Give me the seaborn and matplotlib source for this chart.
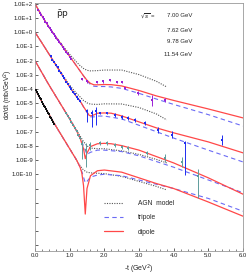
import numpy as np
import pandas as pd
import matplotlib
matplotlib.use("Agg")
import matplotlib.pyplot as plt
import seaborn as sns
from matplotlib.lines import Line2D

sns.set_theme(style="ticks")
plt.rcParams['font.family'] = ['Liberation Sans', 'DejaVu Sans']

# ---------------- data (log10 of plotted dσ/dt, scaled sets) ----------------
energies = ["7.00 GeV", "7.62 GeV", "9.78 GeV", "11.54 GeV"]

# dipole model curves
dip_t = [
    [0, 0.2, 0.4, 0.6, 0.8, 1.0, 1.2, 1.4, 1.5, 1.6, 1.7, 1.8, 2.0, 2.2, 2.5, 3.0, 3.5, 4.0, 5.0, 6.0],
    [0, 0.2, 0.4, 0.6, 0.8, 1.0, 1.2, 1.3, 1.4, 1.5, 1.55, 1.6, 1.7, 1.8, 2.0, 2.2, 2.5, 3.0, 3.5, 4.0, 5.0, 6.0],
    [0, 0.2, 0.4, 0.6, 0.8, 1.0, 1.2, 1.3, 1.4, 1.45, 1.5, 1.6, 1.8, 2.0, 2.2, 2.5, 3.0, 3.5, 4.0, 5.0, 6.0],
    [0, 0.2, 0.4, 0.6, 0.8, 1.0, 1.2, 1.3, 1.35, 1.4, 1.45, 1.5, 1.6, 1.8, 2.0, 2.5, 3.0, 3.5, 4.0, 5.0, 6.0],
]
dip_lg = [
    [2.0, 1.15, 0.37, -0.33, -1.02, -1.70, -2.38, -3.07, -3.38, -3.60, -3.70, -3.70, -3.68, -3.69, -3.78, -4.10, -4.48, -4.80, -5.40, -6.03],
    [0.0, -0.75, -1.52, -2.30, -3.07, -3.85, -4.55, -4.83, -5.25, -5.61, -5.82, -5.89, -5.82, -5.70, -5.68, -5.70, -5.89, -6.31, -6.73, -7.08, -7.72, -8.49],
    [-2.0, -2.85, -3.70, -4.50, -5.30, -6.10, -6.95, -7.45, -8.20, -8.90, -8.50, -8.05, -7.85, -7.82, -7.85, -7.98, -8.30, -8.75, -9.20, -10.25, -11.40],
    [-4.0, -4.90, -5.75, -6.60, -7.40, -8.20, -9.00, -9.50, -9.90, -10.80, -12.80, -11.00, -10.10, -9.75, -9.70, -9.85, -10.25, -10.65, -11.00, -11.95, -12.95],
]

# tripole model curves
tri_t = [
    [0, 0.2, 0.4, 0.6, 0.8, 1.0, 1.2, 1.4, 1.5, 1.6, 1.7, 1.8, 2.0, 2.2, 2.5, 3.0, 3.5, 4.0, 5.0, 6.0],
    [0, 0.2, 0.4, 0.6, 0.8, 1.0, 1.2, 1.3, 1.4, 1.5, 1.6, 1.7, 1.8, 2.0, 2.5, 3.0, 3.5, 4.0, 5.0, 6.0],
    [0, 0.2, 0.4, 0.6, 0.8, 1.0, 1.2, 1.3, 1.4, 1.5, 1.6, 1.8, 2.0, 2.5, 3.0, 4.0, 5.0, 6.0],
    [0, 0.2, 0.4, 0.6, 0.8, 1.0, 1.2, 1.3, 1.35, 1.4, 1.45, 1.5, 1.6, 1.8, 2.0, 2.5, 3.0, 4.0, 5.0, 6.0],
]
tri_lg = [
    [2.0, 1.15, 0.37, -0.33, -1.02, -1.70, -2.38, -3.07, -3.42, -3.68, -3.80, -3.82, -3.82, -3.85, -3.95, -4.30, -4.70, -5.08, -5.80, -6.60],
    [0.0, -0.75, -1.52, -2.30, -3.07, -3.85, -4.55, -4.83, -5.25, -5.65, -5.95, -5.96, -5.90, -5.90, -6.10, -6.55, -7.00, -7.45, -8.30, -9.13],
    [-2.0, -2.85, -3.70, -4.50, -5.30, -6.10, -6.95, -7.45, -8.00, -8.60, -8.45, -8.30, -8.30, -8.40, -8.70, -9.50, -10.40, -11.30],
    [-4.0, -4.90, -5.75, -6.60, -7.40, -8.20, -9.00, -9.50, -9.80, -10.20, -10.60, -10.50, -10.20, -10.05, -10.00, -10.10, -10.40, -11.00, -11.70, -12.60],
]

# AGN model curves
agn_t = [
    [0, 0.2, 0.4, 0.6, 0.8, 1.0, 1.2, 1.3, 1.4, 1.5, 1.6, 1.8, 2.0, 2.5, 3.0, 3.5, 3.8],
    [0, 0.2, 0.4, 0.6, 0.8, 1.0, 1.1, 1.2, 1.3, 1.4, 1.5, 1.6, 1.8, 2.0, 2.5, 3.0, 3.5, 3.8],
    [0, 0.2, 0.4, 0.6, 0.8, 1.0, 1.2, 1.3, 1.4, 1.5, 1.6, 1.8, 2.0, 2.5, 3.0, 3.5, 3.8],
    [0, 0.2, 0.4, 0.6, 0.8, 1.0, 1.2, 1.3, 1.4, 1.5, 1.6, 2.0, 2.5, 3.0, 3.5, 3.8],
]
agn_lg = [
    [2.0, 1.15, 0.37, -0.30, -0.95, -1.55, -2.10, -2.35, -2.55, -2.68, -2.72, -2.70, -2.66, -2.66, -2.98, -3.45, -3.85],
    [0.0, -0.75, -1.52, -2.28, -3.02, -3.72, -4.02, -4.30, -4.55, -4.80, -4.97, -5.06, -5.08, -5.04, -5.05, -5.30, -5.75, -6.17],
    [-2.0, -2.85, -3.70, -4.50, -5.30, -6.10, -6.90, -7.30, -7.70, -8.00, -8.15, -8.20, -8.20, -8.35, -8.60, -8.95, -9.20],
    [-4.0, -4.90, -5.75, -6.60, -7.40, -8.20, -9.00, -9.40, -9.70, -9.85, -9.90, -9.95, -10.15, -10.50, -10.85, -11.10],
]

# measured points (log10 of plotted values)
pts_t = [
    [0.10, 0.14, 0.18, 0.22, 0.26, 0.30, 0.34, 0.38, 0.42, 0.46, 0.50, 0.54, 0.58, 0.62, 0.66, 0.70, 0.75, 0.80, 0.85,
     0.90, 0.95, 1.00, 1.05, 1.35, 1.50, 1.79, 1.96, 2.16, 2.36, 2.50, 2.60, 2.97, 3.37, 3.75],
    [0.45, 0.50, 0.55, 0.60, 0.65, 0.70, 0.75, 0.80, 0.85, 0.90, 0.95, 1.00, 1.05, 1.10, 1.15, 1.20, 1.25, 1.30,
     1.50, 1.65, 1.75, 1.87, 2.07, 2.30, 2.50, 2.68, 2.88, 3.17, 3.55, 3.95, 4.33, 5.40],
    [0.90, 0.95, 1.00, 1.05, 1.10, 1.15, 1.20, 1.25, 1.30, 1.35, 1.48, 1.60, 1.87, 2.08, 2.31, 2.51, 2.68, 3.23, 3.75,
     4.24, 4.70],
    [0.02, 0.05, 0.08, 0.11, 0.14, 0.17, 0.20, 0.23, 0.26, 0.29, 0.32, 0.35, 0.38, 0.41, 0.44, 0.47, 0.50, 0.53, 0.56],
]
pts_lg = [
    [1.60, 1.38, 1.25, 1.05, 0.93, 0.74, 0.62, 0.43, 0.31, 0.14, 0.03, -0.14, -0.25, -0.42, -0.52, -0.69, -0.83, -1.04,
     -1.17, -1.38, -1.51, -1.72, -1.85, -3.30, -3.45, -3.48, -3.46, -3.38, -3.48, -3.50, -3.92, -4.27, -4.76, -4.76],
    [-1.70, -1.92, -2.08, -2.32, -2.48, -2.70, -2.86, -3.09, -3.25, -3.47, -3.63, -3.87, -4.01, -4.22, -4.36, -4.57, -4.68,
     -4.87, -5.55, -5.70, -5.55, -5.68, -5.68, -5.82, -5.96, -6.03, -6.17, -6.38, -6.87, -7.22, -7.79, -7.58],
    [-5.70, -5.92, -6.08, -6.32, -6.50, -6.75, -6.93, -7.22, -7.43, -7.90, -8.30, -7.95, -7.79, -7.79, -7.93, -8.07,
     -8.14, -8.49, -8.85, -9.13, -10.10],
    [-4.08, -4.20, -4.37, -4.47, -4.63, -4.73, -4.92, -5.02, -5.18, -5.27, -5.43, -5.52, -5.68, -5.77, -5.94, -6.03,
     -6.20, -6.29, -6.45],
]
# asymmetric errors in log10 (down, up)
err_dn = [
    [0.05] * 23 + [0.08, 0.10, 0.08, 0.08, 0.08, 0.08, 0.08, 0.10, 0.12, 0.45, 0.12],
    [0.04] * 18 + [0.75, 1.00, 0.95, 0.10, 0.10, 0.12, 0.12, 0.15, 0.15, 0.15, 0.20, 0.25, 2.25, 0.35],
    [0.06] * 9 + [1.00, 1.20, 0.35, 0.12, 0.12, 0.15, 0.15, 0.15, 0.15, 0.25, 0.35, 1.55],
    [0.03] * 19,
]
err_up = [
    [0.05] * 23 + [0.08, 0.10, 0.08, 0.08, 0.08, 0.08, 0.08, 0.10, 0.12, 0.35, 0.12],
    [0.04] * 18 + [0.15, 0.25, 0.30, 0.10, 0.10, 0.12, 0.12, 0.15, 0.15, 0.15, 0.20, 0.25, 0.10, 0.35],
    [0.06] * 9 + [0.30, 0.50, 0.25, 0.12, 0.12, 0.15, 0.15, 0.15, 0.15, 0.25, 0.35, 0.45],
    [0.03] * 19,
]
pt_colors = ["#9b1fd6", "#1f2cf0", "#5e9c9c", "#111111"]

x_ticks = [0, 1, 2, 3, 4, 5, 6]
y_label_exps = [2, 1, 0, -1, -2, -3, -4, -5, -6, -7, -8, -9, -10]

# ---------------- figure ----------------
fig = plt.figure(figsize=(2.47, 2.76), dpi=100)
ax = fig.add_axes([35 / 247, 25 / 276, 208 / 247, 248 / 276])
ax.set_yscale("log")

red = "#ff4848"
blue = "#6b6bf5"
grey = "#555555"

for i in range(4):
    sns.lineplot(x=agn_t[i], y=10 ** np.array(agn_lg[i]), ax=ax, color=grey, lw=0.8,
                 linestyle=(0, (1, 1.2)), estimator=None, sort=False, legend=False)
    sns.lineplot(x=tri_t[i], y=10 ** np.array(tri_lg[i]), ax=ax, color=blue, lw=0.8,
                 linestyle=(0, (4, 3)), estimator=None, sort=False, legend=False)
    sns.lineplot(x=dip_t[i], y=10 ** np.array(dip_lg[i]), ax=ax, color=red, lw=0.9,
                 estimator=None, sort=False, legend=False)

for i in range(4):
    t = np.array(pts_t[i])
    lg = np.array(pts_lg[i])
    y = 10 ** lg
    lo = y - 10 ** (lg - np.array(err_dn[i]))
    hi = 10 ** (lg + np.array(err_up[i])) - y
    ax.errorbar(t, y, yerr=[lo, hi], fmt="none", ecolor=pt_colors[i], elinewidth=0.7,
                capsize=0, zorder=4)
    sns.scatterplot(x=t, y=y, ax=ax, color=pt_colors[i], s=4, marker="s", linewidth=0,
                    zorder=5, legend=False)

ax.set_xlim(0, 6)
ax.set_ylim(10 ** -15.4, 10 ** 2.06)

ax.set_xticks(x_ticks)
ax.set_xticklabels([f"{v:.1f}" for v in x_ticks])
ax.set_xticks(np.arange(0, 6.01, 0.2), minor=True)
ax.set_yticks([10.0 ** e for e in range(2, -16, -1)])
ax.set_yticklabels([f"1.0E{e:+d}" if e in y_label_exps else "" for e in range(2, -16, -1)])
ax.yaxis.set_minor_locator(matplotlib.ticker.NullLocator())
ax.tick_params(axis="both", which="major", direction="in", length=2.5, width=0.5,
               labelsize=4.3, colors="#222222", pad=1.5)
ax.tick_params(axis="x", which="minor", direction="in", length=1.3, width=0.4)
for s in ax.spines.values():
    s.set_color("#999999")
    s.set_linewidth(0.6)

ax.set_xlabel("-t (GeV$^2$)", fontsize=5, labelpad=3)
ax.set_ylabel(r"d$\sigma$/dt (mb/GeV$^2$)", fontsize=4.8)
ax.yaxis.set_label_coords(-0.098, 0.63)

ax.text(0.13, 0.955, r"$\mathrm{\bar{p}p}$", transform=ax.transAxes, fontsize=6.5,
        ha="center", va="center")
ax.text(0.505, 0.948, r"$\sqrt{s}$ =", transform=ax.transAxes, fontsize=4.3, ha="left", va="center")
for yy, e in zip([0.948, 0.891, 0.843, 0.794], energies):
    ax.text(0.755, yy, e, transform=ax.transAxes, fontsize=4.3, ha="right", va="center")

handles = [Line2D([], [], color=grey, lw=0.8, linestyle=(0, (1, 1.2))),
           Line2D([], [], color=blue, lw=0.8, linestyle=(0, (4, 3))),
           Line2D([], [], color=red, lw=0.9)]
ax.legend(handles, ["AGN  model", "tripole", "dipole"], loc="upper left",
          bbox_to_anchor=(0.31, 0.225), frameon=False, fontsize=4.8, handlelength=2.9,
          labelspacing=1.1, handletextpad=2.2, borderpad=0.2)

fig.savefig("out.png", dpi=100)
